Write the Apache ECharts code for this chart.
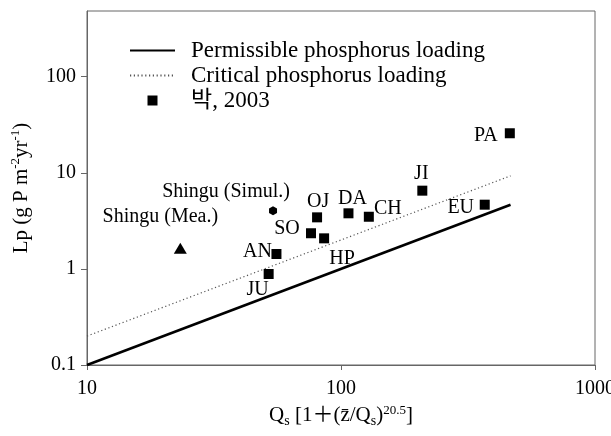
<!DOCTYPE html>
<html>
<head>
<meta charset="utf-8">
<script src="https://cdn.jsdelivr.net/npm/echarts@6/dist/echarts.min.js"></script>
<style>
  html, body { margin: 0; padding: 0; background: #fff; }
  #chart { width: 611px; height: 436px; }
</style>
</head>
<body>
<div id="chart"></div>
<script>
// Lake sites: normalised areal loading vs. phosphorus loading
const siteNames = ['JU', 'AN', 'SO', 'HP', 'OJ', 'DA', 'CH', 'JI', 'EU', 'PA'];
const siteX = [51.9, 55.7, 76.2, 85.8, 80.5, 107, 128.7, 209, 368, 462];
const siteY = [0.885, 1.43, 2.35, 2.08, 3.44, 3.79, 3.49, 6.52, 4.66, 25.8];

const shinguMeaName = 'Shingu (Mea.)';
const shinguMeaX = [23.3];
const shinguMeaY = [1.64];

const shinguSimName = 'Shingu (Simul.)';
const shinguSimX = [54.0];
const shinguSimY = [4.03];

// Vollenweider loading limits
const permissibleX = [10, 465];
const permissibleY = [0.1, 4.65];
const criticalX = [10, 465];
const criticalY = [0.2, 9.3];

// axis ticks
const xTicks = [10, 100, 1000];
const yTicks = [0.1, 1, 10, 100];

const seriesNames = ['Permissible phosphorus loading', 'Critical phosphorus loading', '박, 2003'];

// label placement around each marker (pixel offset of the label centre)
const labelOffsets = {
  JU: [-11, 16], AN: [-19, -2], SO: [-24, -5], HP: [18, 20], OJ: [1, -16],
  DA: [4, -15], CH: [19, -8], JI: [-1, -17], EU: [-24, 3], PA: [-24, 2.5],
  'Shingu (Mea.)': [-20, -32], 'Shingu (Simul.)': [-47, -19]
};

const FONT = "'Liberation Serif', 'Noto Sans CJK KR', serif";
const zip = (xs, ys) => xs.map((x, i) => [x, ys[i]]);

function pointLabel(name) {
  return {
    show: true,
    position: 'inside',
    offset: labelOffsets[name],
    formatter: name,
    color: '#000',
    fontFamily: FONT,
    fontSize: 20
  };
}

const chart = echarts.init(document.getElementById('chart'), null, { renderer: 'canvas' });

chart.setOption({
  animation: false,
  backgroundColor: '#fff',
  textStyle: { fontFamily: FONT },
  grid: {
    left: 87, right: 16, top: 11, bottom: 71,
    show: true, borderColor: '#666', borderWidth: 1,
    containLabel: false, outerBoundsMode: 'none'
  },
  legend: {
    orient: 'vertical',
    left: 129, top: 38, padding: 0,
    itemWidth: 45, itemHeight: 10, itemGap: 0,
    symbolKeepAspect: true,
    textStyle: { fontFamily: FONT, fontSize: 23, color: '#000', lineHeight: 25, padding: [0, 0, 0, 11] },
    data: [
      { name: seriesNames[0], itemStyle: { opacity: 0 } },
      { name: seriesNames[1], itemStyle: { opacity: 0 } },
      { name: seriesNames[2], icon: 'path://M0,0H1V1H0Z', itemStyle: { opacity: 1 } }
    ]
  },
  xAxis: {
    type: 'log', logBase: 10, min: 10, max: 1000,
    name: 'Q{sub|s} [1＋(z\u0304/Q{sub|s}){sup|20.5}]',
    nameLocation: 'middle', nameGap: 36,
    nameTextStyle: {
      fontFamily: FONT, fontSize: 21, color: '#000', lineHeight: 24,
      rich: {
        sub: { fontFamily: FONT, fontSize: 14, lineHeight: 14, verticalAlign: 'bottom', color: '#000' },
        sup: { fontFamily: FONT, fontSize: 13, lineHeight: 12, verticalAlign: 'top', color: '#000' }
      }
    },
    axisLine: { show: true, lineStyle: { color: '#666', width: 1 } },
    axisTick: { show: true, inside: false, length: 5, lineStyle: { color: '#666' }, customValues: xTicks },
    minorTick: { show: false },
    splitLine: { show: false },
    axisLabel: {
      color: '#000', fontFamily: FONT, fontSize: 20, margin: 14,
      customValues: xTicks, formatter: v => String(v)
    }
  },
  yAxis: {
    type: 'log', logBase: 10, min: 0.1, max: 483,
    name: 'Lp (g P m{sup|-2}yr{sup|-1})',
    nameLocation: 'middle', nameGap: 54,
    nameTextStyle: {
      fontFamily: FONT, fontSize: 21, color: '#000', lineHeight: 24,
      rich: {
        sup: { fontFamily: FONT, fontSize: 13, lineHeight: 12, verticalAlign: 'top', color: '#000' }
      }
    },
    axisLine: { show: true, lineStyle: { color: '#666', width: 1 } },
    axisTick: { show: true, inside: false, length: 6, lineStyle: { color: '#666' }, customValues: yTicks },
    minorTick: { show: false },
    splitLine: { show: false },
    axisLabel: {
      color: '#000', fontFamily: FONT, fontSize: 20, margin: 11,
      customValues: yTicks, formatter: v => String(v)
    }
  },
  series: [
    {
      name: seriesNames[0],
      type: 'line',
      data: zip(permissibleX, permissibleY),
      symbol: 'none',
      lineStyle: { color: '#000', width: 2.6, type: 'solid' },
      itemStyle: { color: '#000' },
      z: 2
    },
    {
      name: seriesNames[1],
      type: 'line',
      data: zip(criticalX, criticalY),
      symbol: 'none',
      lineStyle: { color: '#555', width: 1.2, type: [1.2, 2.6] },
      itemStyle: { color: '#555' },
      z: 2
    },
    {
      name: seriesNames[2],
      type: 'scatter',
      symbol: 'rect',
      symbolSize: 10,
      itemStyle: { color: '#000', opacity: 1 },
      data: siteNames.map((n, i) => ({ name: n, value: [siteX[i], siteY[i]], label: pointLabel(n) })),
      z: 5
    },
    {
      name: shinguMeaName,
      type: 'scatter',
      symbol: 'triangle',
      symbolSize: [13, 11],
      itemStyle: { color: '#000', opacity: 1 },
      data: zip(shinguMeaX, shinguMeaY).map(v => ({ name: shinguMeaName, value: v, label: pointLabel(shinguMeaName) })),
      z: 5
    },
    {
      name: shinguSimName,
      type: 'scatter',
      symbol: 'path://M0,-1L0.866,-0.5L0.866,0.5L0,1L-0.866,0.5L-0.866,-0.5Z',
      symbolSize: [8, 9],
      itemStyle: { color: '#000', opacity: 1 },
      data: zip(shinguSimX, shinguSimY).map(v => ({ name: shinguSimName, value: v, label: pointLabel(shinguSimName) })),
      z: 5
    }
  ]
});
</script>
</body>
</html>
